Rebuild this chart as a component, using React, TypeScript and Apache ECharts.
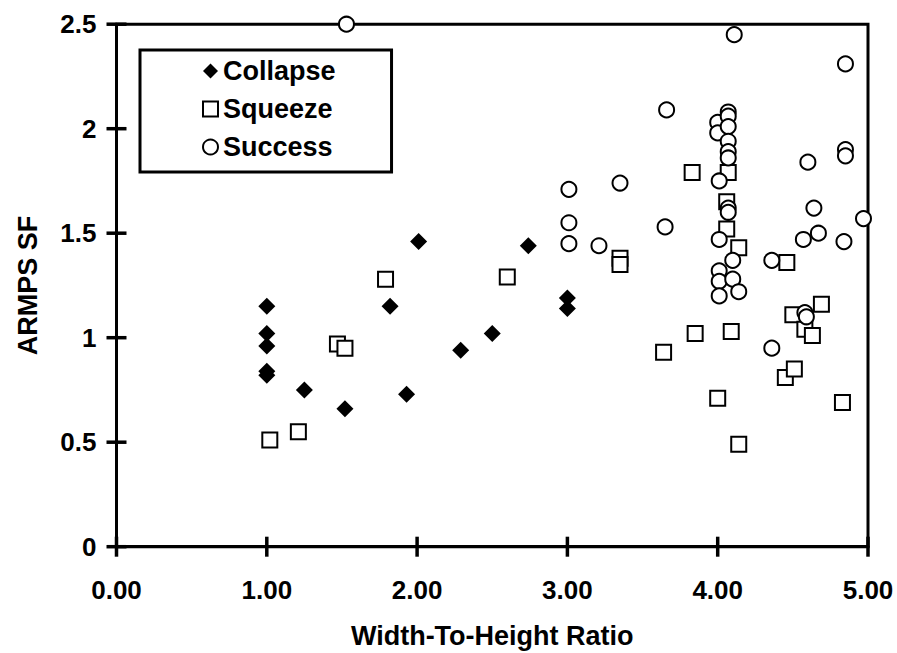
import React, { useEffect, useRef } from "react";
import * as echarts from "echarts";

const xTicks = [0, 1, 2, 3, 4, 5];
const yTicks = [0, 0.5, 1, 1.5, 2, 2.5];

const collapseX = [1.0, 1.0, 1.0, 1.0, 1.0, 1.25, 1.52, 1.82, 1.93, 2.01, 2.29, 2.5, 2.74, 3.0, 3.0];
const collapseY = [1.15, 1.02, 0.96, 0.84, 0.82, 0.75, 0.66, 1.15, 0.73, 1.46, 0.94, 1.02, 1.44, 1.19, 1.14];

const squeezeX = [1.02, 1.21, 1.47, 1.52, 1.79, 2.6, 3.35, 3.35, 3.64, 3.83, 3.85, 4.0, 4.07, 4.06, 4.06, 4.09, 4.14, 4.14, 4.46, 4.45, 4.51, 4.5, 4.58, 4.63, 4.69, 4.83];
const squeezeY = [0.51, 0.55, 0.97, 0.95, 1.28, 1.29, 1.38, 1.35, 0.93, 1.79, 1.02, 0.71, 1.79, 1.65, 1.52, 1.03, 1.43, 0.49, 1.36, 0.81, 0.85, 1.11, 1.04, 1.01, 1.16, 0.69];

const successX = [1.53, 3.01, 3.01, 3.01, 3.21, 3.35, 3.65, 3.66, 4.0, 4.0, 4.01, 4.01, 4.01, 4.01, 4.01, 4.07, 4.07, 4.07, 4.07, 4.07, 4.07, 4.07, 4.07, 4.1, 4.1, 4.11, 4.14, 4.36, 4.36, 4.57, 4.58, 4.59, 4.6, 4.64, 4.67, 4.84, 4.85, 4.85, 4.85, 4.97];
const successY = [2.5, 1.71, 1.55, 1.45, 1.44, 1.74, 1.53, 2.09, 2.03, 1.98, 1.75, 1.47, 1.32, 1.27, 1.2, 2.08, 2.06, 2.01, 1.94, 1.89, 1.86, 1.62, 1.6, 1.37, 1.28, 2.45, 1.22, 1.37, 0.95, 1.47, 1.12, 1.1, 1.84, 1.62, 1.5, 1.46, 1.9, 1.87, 2.31, 1.57];

const zip = (xs: number[], ys: number[]) => xs.map((x, i) => [x, ys[i]]);

export default function App() {
  const ref = useRef<HTMLDivElement>(null);
  useEffect(() => {
    if (!ref.current) return;
    const chart = echarts.init(ref.current, null, { renderer: "svg" });
    const font = "Liberation Sans, Arial, sans-serif";
    const tickLen = 10;
    const tickStyle = { stroke: "#000", lineWidth: 3.5 };
    chart.setOption({
      animation: false,
      backgroundColor: "#fff",
      textStyle: { fontFamily: font, color: "#000" },
      grid: {
        left: 116.5,
        right: 29,
        top: 24.2,
        bottom: 106.3,
        outerBoundsMode: "none",
        containLabel: false,
        show: true,
        borderColor: "#000",
        borderWidth: 3,
        backgroundColor: "transparent",
      },
      legend: {
        orient: "vertical",
        left: 140,
        top: 50,
        padding: [6, 56, 10, 62],
        itemGap: 8,
        itemWidth: 15,
        itemHeight: 15,
        borderColor: "#000",
        borderWidth: 3,
        backgroundColor: "#fff",
        textStyle: { fontFamily: font, fontWeight: "bold", fontSize: 27, color: "#000", lineHeight: 30 },
        data: ["Collapse", "Squeeze", "Success"],
      },
      xAxis: {
        type: "value",
        min: xTicks[0],
        max: xTicks[xTicks.length - 1],
        interval: 1,
        splitLine: { show: false },
        name: "Width-To-Height Ratio",
        nameLocation: "middle",
        nameGap: 76,
        nameTextStyle: { fontFamily: font, fontWeight: "bold", fontSize: 27, color: "#000" },
        axisLine: { show: true, onZero: false, lineStyle: { color: "#000", width: 3 } },
        axisTick: { show: false },
        axisLabel: {
          margin: 30,
          fontFamily: font,
          fontWeight: "bold",
          fontSize: 26,
          color: "#000",
          formatter: (v: number) => v.toFixed(2),
        },
      },
      yAxis: {
        type: "value",
        min: yTicks[0],
        max: yTicks[yTicks.length - 1],
        interval: 0.5,
        splitLine: { show: false },
        name: "ARMPS SF",
        nameLocation: "middle",
        nameGap: 75,
        nameRotate: 90,
        nameTextStyle: { fontFamily: font, fontWeight: "bold", fontSize: 27, color: "#000" },
        axisLine: { show: true, onZero: false, lineStyle: { color: "#000", width: 3 } },
        axisTick: { show: false },
        axisLabel: { margin: 20, fontFamily: font, fontWeight: "bold", fontSize: 26, color: "#000" },
      },
      series: [
        {
          name: "xticks",
          type: "custom",
          silent: true,
          clip: false,
          z: 1,
          data: xTicks.map((v) => [v, yTicks[0]]),
          renderItem: (_p: any, api: any) => {
            const pt = api.coord([api.value(0), api.value(1)]);
            return {
              type: "line",
              shape: { x1: pt[0], y1: pt[1] - tickLen, x2: pt[0], y2: pt[1] + tickLen },
              style: tickStyle,
            };
          },
        },
        {
          name: "yticks",
          type: "custom",
          silent: true,
          clip: false,
          z: 1,
          data: yTicks.map((v) => [xTicks[0], v]),
          renderItem: (_p: any, api: any) => {
            const pt = api.coord([api.value(0), api.value(1)]);
            return {
              type: "line",
              shape: { x1: pt[0] - tickLen, y1: pt[1], x2: pt[0] + tickLen, y2: pt[1] },
              style: tickStyle,
            };
          },
        },
        {
          name: "Squeeze",
          type: "scatter",
          clip: false,
          symbol: "rect",
          symbolSize: 15,
          itemStyle: { color: "#fff", borderColor: "#000", borderWidth: 2, opacity: 1 },
          data: zip(squeezeX, squeezeY),
          z: 3,
        },
        {
          name: "Success",
          type: "scatter",
          clip: false,
          symbol: "circle",
          symbolSize: 15,
          itemStyle: { color: "#fff", borderColor: "#000", borderWidth: 2, opacity: 1 },
          data: zip(successX, successY),
          z: 4,
        },
        {
          name: "Collapse",
          type: "scatter",
          clip: false,
          symbol: "diamond",
          symbolSize: 17,
          itemStyle: { color: "#000", opacity: 1 },
          data: zip(collapseX, collapseY),
          z: 5,
        },
      ],
    });
    return () => chart.dispose();
  }, []);
  return (
    <div
      ref={ref}
      style={{ position: "fixed", left: 0, top: 0, width: 897, height: 653, background: "#fff" }}
    />
  );
}
